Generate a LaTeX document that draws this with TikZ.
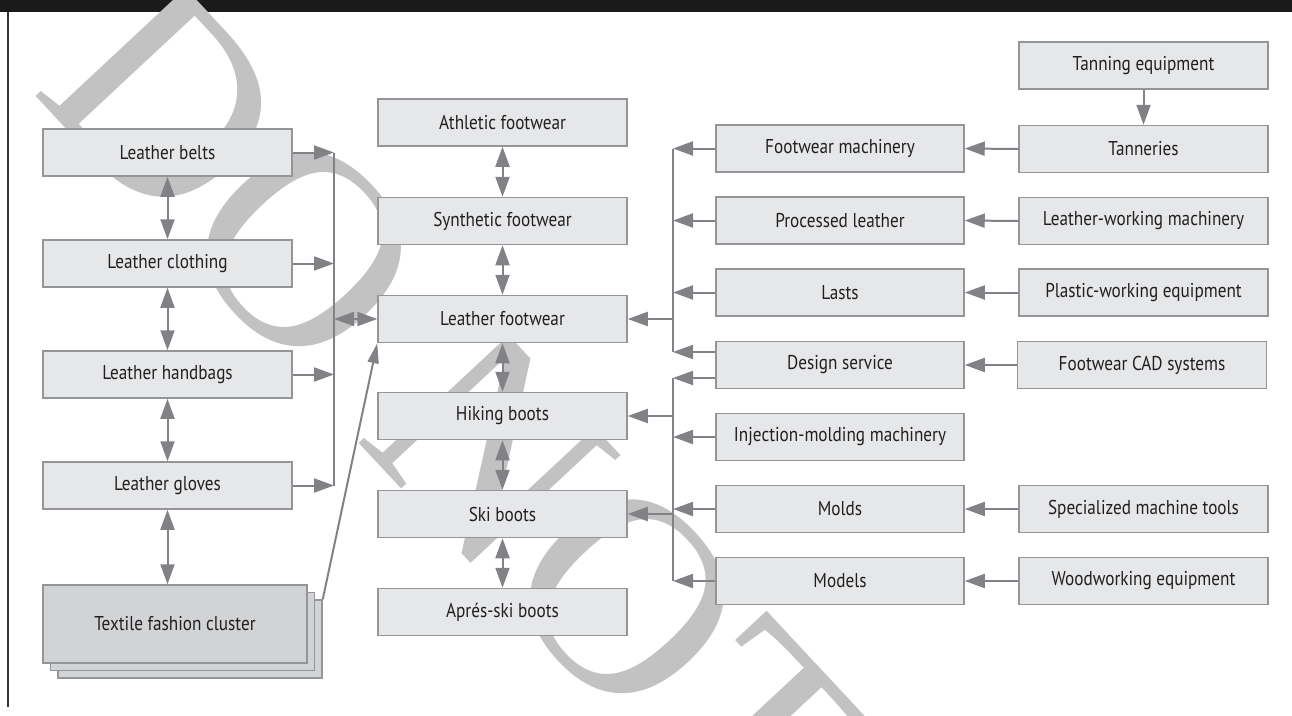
\documentclass[tikz,border=0pt]{standalone}
\usepackage{fontspec}
\setmainfont{PT Sans}[FakeStretch=0.86]
\newfontfamily\wmfont{Liberation Serif}
\usetikzlibrary{arrows.meta,positioning}
\definecolor{boxfill}{HTML}{E6E7E8}
\definecolor{boxedge}{HTML}{939598}
\definecolor{darkfill}{HTML}{D1D3D4}
\definecolor{arr}{HTML}{808285}
\definecolor{txt}{HTML}{231F20}
\definecolor{wm}{HTML}{C2C2C2}
\definecolor{topbar}{HTML}{1A1A1A}
\newcommand{\lab}{\fontsize{20}{22}\selectfont}
\tikzset{
  box/.style={draw=boxedge, fill=boxfill, line width=1.5pt, minimum width=249pt,
    minimum height=47pt, inner sep=0pt, text=txt, font=\lab},
  cbox/.style={box, fill=darkfill, minimum width=264pt, minimum height=78pt},
  con/.style={draw=arr, line width=2pt},
  ar/.style={con, -{Triangle[length=20pt,width=14pt]}},
  dar/.style={con, {Triangle[length=20pt,width=14pt]}-{Triangle[length=20pt,width=14pt]}},
}
\begin{document}
\begin{tikzpicture}[x=1pt,y=-1pt]
\useasboundingbox (0,0) rectangle (1292,715);
\fill[topbar] (0,0) rectangle (1292,12);
\draw[draw=black!80, line width=1.5pt] (8,12) -- (8,707);
% watermark
\node[rotate=-47, text=wm, font=\wmfont\fontsize{280}{280}\selectfont, inner sep=0pt] (wmk) at (455,412) {DO NOT};
% left column
\node[box] (belts) at (167.5,152.5) {Leather belts};
\node[box] (cloth) at (167.5,263.5) {Leather clothing};
\node[box] (bags)  at (167.5,374.5) {Leather handbags};
\node[box] (glove) at (167.5,485.5) {Leather gloves};
\node[cbox] (tex3) at (190,639) {};
\node[cbox] (tex2) at (182.5,631.5) {};
\node[cbox] (tex)  at (175,624) {Textile fashion cluster};
% middle column
\node[box] (ath)  at (502.5,122.5) {Athletic footwear};
\node[box] (syn)  at (502.5,221) {Synthetic footwear};
\node[box] (lf)   at (502.5,319) {Leather footwear};
\node[box] (hik)  at (502.5,416) {Hiking boots};
\node[box] (ski)  at (502.5,514) {Ski boots};
\node[box] (apres) at (502.5,612) {Aprés-ski boots};
% right column 1
\node[box, minimum width=248pt] (fm)  at (840,148.5) {Footwear machinery};
\node[box, minimum width=248pt] (pl)  at (840,220.5) {Processed leather};
\node[box, minimum width=248pt] (la)  at (840,292.5) {Lasts};
\node[box, minimum width=248pt] (ds)  at (840,365) {Design service};
\node[box, minimum width=248pt] (inj) at (840,437) {Injection-molding machinery};
\node[box, minimum width=248pt] (mo)  at (840,509) {Molds};
\node[box, minimum width=248pt] (mod) at (840,581) {Models};
% right column 2
\node[box] (tan)  at (1143.5,65.5) {Tanning equipment};
\node[box] (tnr)  at (1143.5,149) {Tanneries};
\node[box] (lwm)  at (1143.5,221) {Leather-working machinery};
\node[box] (pwe)  at (1143.5,292.5) {Plastic-working equipment};
\node[box] (cad)  at (1142,365) {Footwear CAD systems};
\node[box] (smt)  at (1143.5,509) {Specialized machine tools};
\node[box] (wwe)  at (1143.5,581) {Woodworking equipment};
% junction coordinates
\coordinate (L1) at (334,152.5);
\coordinate (L2) at (334,263.5);
\coordinate (L3) at (334,374.5);
\coordinate (L4) at (334,485.5);
\coordinate (LM) at (334,319);
\coordinate (R1) at (673,148.5);
\coordinate (R2) at (673,220.5);
\coordinate (R3) at (673,292.5);
\coordinate (R4) at (673,352);
\coordinate (RM) at (673,319);
\coordinate (S1) at (673,378);
\coordinate (S2) at (673,437);
\coordinate (S3) at (673,509);
\coordinate (S4) at (673,581);
\coordinate (SH) at (673,416);
\coordinate (SK) at (673,514);
% left connectors
\draw[con] (L1) -- (L4);
\draw[ar] (belts.east) -- (L1);
\draw[ar] (cloth.east) -- (L2);
\draw[ar] (bags.east) -- (L3);
\draw[ar] (glove.east) -- (L4);
\draw[dar] (LM) -- (lf.west);
\draw[dar] (belts.south) -- (cloth.north);
\draw[dar] (cloth.south) -- (bags.north);
\draw[dar] (bags.south) -- (glove.north);
\draw[dar] (glove.south) -- (glove.south |- tex.north);
\draw[con, -{Triangle[length=20pt,width=11pt]}] (tex3.north east) -- (lf.south west);
% middle connectors
\draw[dar] (ath.south) -- (syn.north);
\draw[dar] (syn.south) -- (lf.north);
\draw[dar] (lf.south) -- (hik.north);
\draw[dar] (hik.south) -- (ski.north);
\draw[dar] (ski.south) -- (apres.north);
% right connectors
\draw[con] (R1) -- (R4);
\draw[ar] (fm.west) -- (R1);
\draw[ar] (pl.west) -- (R2);
\draw[ar] (la.west) -- (R3);
\draw[ar] (ds.west |- R4) -- (R4);
\draw[ar] (RM) -- (lf.east);
\draw[con] (S1) -- (S4);
\draw[ar] (ds.west |- S1) -- (S1);
\draw[ar] (inj.west) -- (S2);
\draw[ar] (mo.west) -- (S3);
\draw[ar] (mod.west) -- (S4);
\draw[ar] (SH) -- (hik.east);
\draw[ar] (SK) -- (ski.east);
\draw[ar] (tnr.west) -- (fm.east);
\draw[ar] (lwm.west) -- (pl.east);
\draw[ar] (pwe.west) -- (la.east);
\draw[ar] (cad.west) -- (ds.east);
\draw[ar] (smt.west) -- (mo.east);
\draw[ar] (wwe.west) -- (mod.east);
\draw[ar] (tan.south) -- (tnr.north);
\end{tikzpicture}
\end{document}
